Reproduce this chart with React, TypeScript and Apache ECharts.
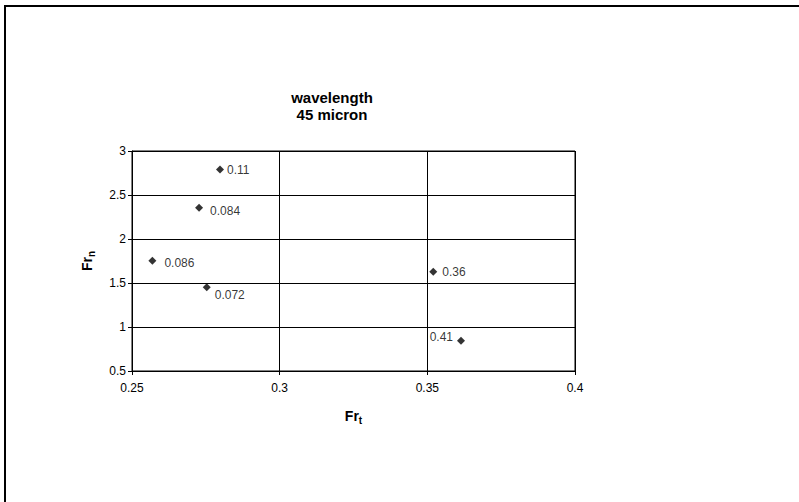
import React, { useEffect, useRef } from "react";
import * as echarts from "echarts";

const xValues = [0.2798, 0.2727, 0.2569, 0.2753, 0.352, 0.3614];
const yValues = [2.79, 2.356, 1.753, 1.451, 1.628, 0.844];
const pointLabels = ["0.11", "0.084", "0.086", "0.072", "0.36", "0.41"];
const titleLines = ["wavelength", "45 micron"];

// label placement per point (style only)
const labelPlacement: { position: string; distance: number; offset: number[] }[] = [
  { position: "right", distance: 3, offset: [0, 1] },
  { position: "right", distance: 7, offset: [0, 3] },
  { position: "right", distance: 8, offset: [0, 2] },
  { position: "right", distance: 4, offset: [0, 8] },
  { position: "right", distance: 5, offset: [0, 0] },
  { position: "left", distance: 4, offset: [0, -4] },
];

export default function App() {
  const ref = useRef<HTMLDivElement>(null);
  useEffect(() => {
    document.body.style.margin = "0";
    if (!ref.current) return;
    const chart = echarts.init(ref.current, null, { renderer: "svg" });
    const font = "'Liberation Sans', Arial, sans-serif";
    const nameRich = {
      a: { fontSize: 14, fontWeight: "bold", color: "#000", fontFamily: font },
      b: { fontSize: 10, fontWeight: "bold", color: "#000", fontFamily: font, padding: [8, 0, 0, 0] },
    };
    chart.setOption({
      animation: false,
      backgroundColor: "#fff",
      textStyle: { fontFamily: font },
      graphic: [
        {
          type: "rect",
          shape: { x: 5, y: 6, width: 820, height: 520 },
          style: { fill: "none", stroke: "#000", lineWidth: 2 },
          silent: true,
        },
        {
          type: "text",
          x: 332,
          y: 97,
          silent: true,
          style: {
            text: titleLines[0],
            fontSize: 15,
            fontWeight: "bold",
            fontFamily: font,
            fill: "#000",
            align: "center",
            verticalAlign: "middle",
          },
        },
        {
          type: "text",
          x: 332,
          y: 114,
          silent: true,
          style: {
            text: titleLines[1],
            fontSize: 15,
            fontWeight: "bold",
            fontFamily: font,
            fill: "#000",
            align: "center",
            verticalAlign: "middle",
          },
        },
      ],
      grid: { left: 132, right: 224, top: 151, bottom: 131, show: true, borderColor: "#000", borderWidth: 1 },
      xAxis: {
        type: "value",
        min: 0.25,
        max: 0.4,
        interval: 0.05,
        name: "{a|Fr}{b|t}",
        nameLocation: "middle",
        nameGap: 36,
        nameTextStyle: { rich: nameRich },
        axisLine: { show: true, lineStyle: { color: "#000", width: 1 } },
        axisTick: { show: true, length: 4, lineStyle: { color: "#000" } },
        axisLabel: { fontSize: 12, color: "#000", margin: 11, fontFamily: font },
        splitLine: { show: true, lineStyle: { color: "#000", width: 1 } },
      },
      yAxis: {
        type: "value",
        min: 0.5,
        max: 3,
        interval: 0.5,
        name: "{a|Fr}{b|n}",
        nameLocation: "middle",
        nameGap: 36,
        nameTextStyle: { rich: nameRich },
        axisLine: { show: true, lineStyle: { color: "#000", width: 1 } },
        axisTick: { show: true, length: 4, lineStyle: { color: "#000" } },
        axisLabel: { fontSize: 12, color: "#000", margin: 6, fontFamily: font },
        splitLine: { show: true, lineStyle: { color: "#000", width: 1 } },
      },
      series: [
        {
          type: "scatter",
          symbol: "diamond",
          symbolSize: 8,
          itemStyle: { color: "#000" },
          data: xValues.map((x, i) => ({
            value: [x, yValues[i]],
            label: {
              show: true,
              formatter: pointLabels[i],
              position: labelPlacement[i].position,
              distance: labelPlacement[i].distance,
              offset: labelPlacement[i].offset,
              fontSize: 12,
              color: "#000",
              fontFamily: font,
            },
          })),
        },
      ],
    });
    return () => chart.dispose();
  }, []);
  return <div ref={ref} style={{ width: 799, height: 502 }} />;
}
